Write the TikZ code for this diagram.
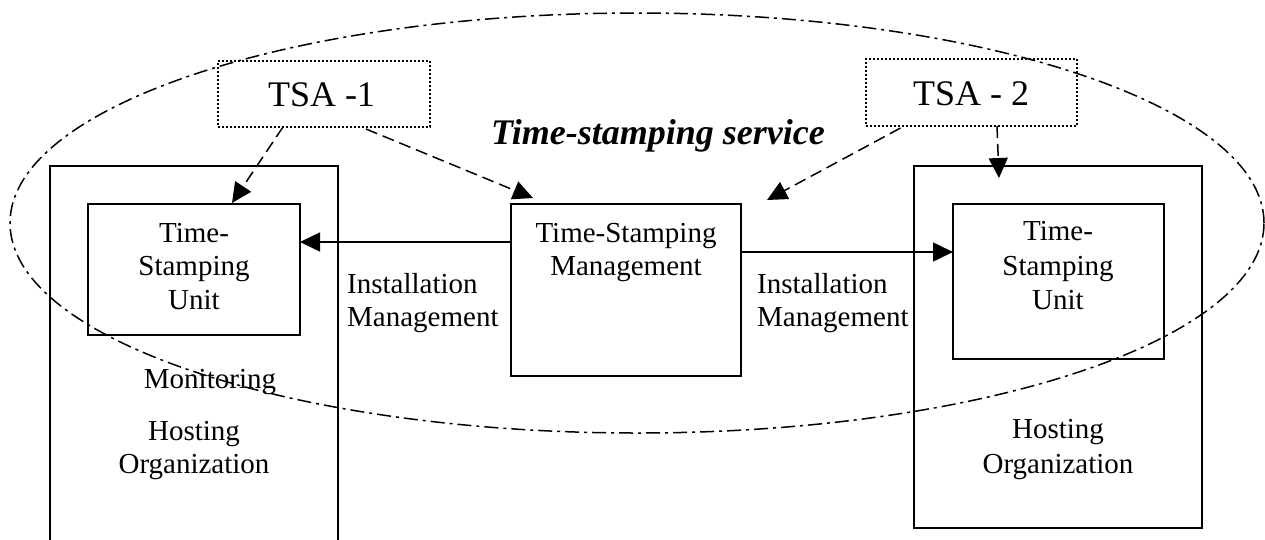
\documentclass[tikz,border=0pt]{standalone}
\usepackage{fontspec}
\setmainfont{Liberation Serif}
\usetikzlibrary{arrows.meta,shapes.geometric}
\begin{document}
\begin{tikzpicture}[x=1pt,y=-1pt,
  box/.style={draw, line width=2pt, rectangle, inner sep=0pt, outer sep=0pt},
  tsabox/.style={draw, line width=2pt, dash pattern=on 2pt off 2pt, rectangle, inner sep=0pt, outer sep=0pt},
  lbl/.style={font=\fontsize{29}{34}\selectfont, inner sep=0pt, anchor=base},
  lblw/.style={font=\fontsize{29}{34}\selectfont, inner sep=0pt, anchor=base west},
  tsatext/.style={font=\fontsize{36}{40}\selectfont, inner sep=0pt, anchor=base},
  title/.style={font=\fontsize{36}{40}\selectfont\bfseries\itshape, inner sep=0pt, anchor=base},
  tip/.style={-{Triangle[length=20pt,width=19pt]}},
  dasharrow/.style={tip, line width=1.5pt, dash pattern=on 12pt off 6pt},
  solidarrow/.style={tip, line width=1.5pt},
  service/.style={draw, ellipse, line width=1.5pt, inner sep=0pt, dash pattern=on 14pt off 5pt on 3pt off 5pt}
]
\useasboundingbox (0,0) rectangle (1265,539);
\clip (0,0) rectangle (1265,539);

% boxes
\node[box, minimum width=288pt, minimum height=394pt] (hostL) at (194,363) {};
\node[box, minimum width=212pt, minimum height=131pt] (tsuL) at (194,269.5) {};
\node[box, minimum width=230pt, minimum height=172pt] (tsm) at (626,290) {};
\node[box, minimum width=288pt, minimum height=362pt] (hostR) at (1058,347) {};
\node[box, minimum width=211pt, minimum height=155pt] (tsuR) at (1058.5,281.5) {};
\node[tsabox, minimum width=212pt, minimum height=66pt] (tsa1) at (324,94) {};
\node[tsabox, minimum width=211pt, minimum height=67pt] (tsa2) at (971.5,92.5) {};

% service ellipse
\node[service, minimum width=1254pt, minimum height=420pt] (svc) at (637,223) {};

% texts
\node[tsatext] (tsa1t) at (321.5,106) {TSA -1};
\node[tsatext] (tsa2t) at (971,105) {TSA - 2};
\node[title] (svct) at (658,144) {Time-stamping service};

\node[lbl] (tsuL1) at (194,242) {Time-};
\node[lbl] (tsuL2) at (194,275) {Stamping};
\node[lbl] (tsuL3) at (194,309) {Unit};
\node[lbl] (tsuR1) at (1058,240) {Time-};
\node[lbl] (tsuR2) at (1058,275) {Stamping};
\node[lbl] (tsuR3) at (1058,309) {Unit};
\node[lbl] (tsm1) at (626,242) {Time-Stamping};
\node[lbl] (tsm2) at (626,275) {Management};
\node[lbl] (mon) at (210,388) {Monitoring};
\node[lbl] (hostL1) at (194,440) {Hosting};
\node[lbl] (hostL2) at (194,473) {Organization};
\node[lbl] (hostR1) at (1058,438) {Hosting};
\node[lbl] (hostR2) at (1058,473) {Organization};
\node[lblw] (instL1) at (347,293) {Installation};
\node[lblw] (instL2) at (347,326) {Management};
\node[lblw] (instR1) at (757,293) {Installation};
\node[lblw] (instR2) at (757,326) {Management};

% free end near TSM
\coordinate (freeR) at ([xshift=26pt,yshift=4pt]tsm.north east);

% dashed arrows
\draw[dasharrow] ([xshift=-41pt]tsa1.south) -- ([xshift=38pt,yshift=1pt]tsuL.north);
\draw[dasharrow] ([xshift=42pt,yshift=-2pt]tsa1.south) -- ([xshift=22pt,yshift=6pt]tsm.north west);
\draw[dasharrow] ([xshift=-71pt,yshift=-2pt]tsa2.south) -- (freeR);
\draw[dasharrow] ([xshift=25.5pt]tsa2.south) -- ([xshift=-59pt,yshift=-12pt]hostR.north);

% solid arrows
\draw[solidarrow] ([yshift=48pt]tsm.west) -- ([yshift=48pt]tsm.west -| tsuL.east);
\draw[solidarrow] ([yshift=38pt]tsm.east) -- ([yshift=38pt]tsm.east -| tsuR.west);
\end{tikzpicture}
\end{document}
